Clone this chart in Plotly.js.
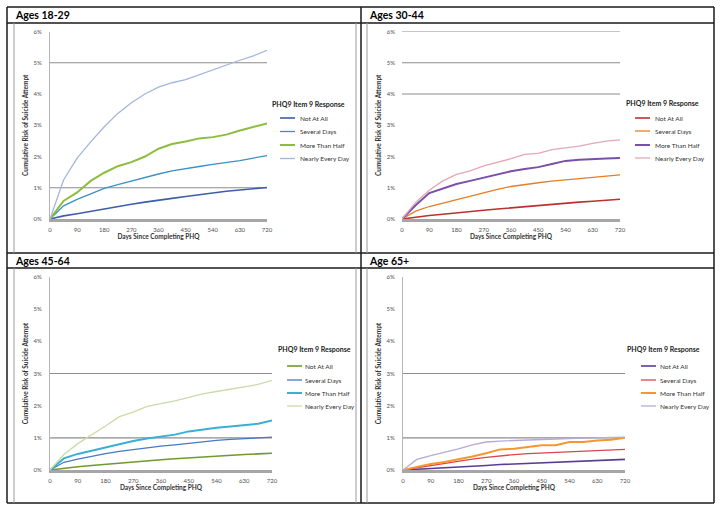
<!DOCTYPE html>
<html><head><meta charset="utf-8">
<script src="https://cdn.plot.ly/plotly-3.0.1.min.js"></script>
<style>html,body{margin:0;padding:0;background:#fff;}#chart{width:724px;height:512px;}</style>
</head><body><div id="chart"></div>
<script>
// ---------- DATA ----------
const days = [0,45,90,135,180,225,270,315,360,405,450,495,540,585,630,675,720];
const seriesNames = ['Not At All','Several Days','More Than Half','Nearly Every Day'];
const panelTitles = ['Ages 18-29','Ages 30-44','Ages 45-64','Age 65+'];
const xTickVals = [0,90,180,270,360,450,540,630,720];
const xTickLabels = ['0','90','180','270','360','450','540','630','720'];
const yTickVals = [0,1,2,3,4,5,6];
const yTickLabels = ['0%','1%','2%','3%','4%','5%','6%'];
const legendTitle = 'PHQ9 Item 9 Response';
const xTitle = 'Days Since Completing PHQ';
const yTitle = 'Cumulative Risk of Suicide Attempt';

// Ages 18-29 (cumulative risk, %)
const a1829_notAtAll      = [0,0.10,0.17,0.25,0.33,0.40,0.47,0.54,0.61,0.66,0.72,0.78,0.84,0.89,0.93,0.97,1.01];
const a1829_severalDays   = [0,0.42,0.63,0.80,0.98,1.10,1.22,1.32,1.44,1.54,1.60,1.68,1.75,1.80,1.87,1.95,2.03];
const a1829_moreThanHalf  = [0,0.58,0.85,1.22,1.48,1.69,1.82,2.00,2.25,2.40,2.48,2.58,2.62,2.70,2.83,2.95,3.06];
const a1829_nearlyEvery   = [0,1.25,1.95,2.47,2.95,3.38,3.72,4.00,4.22,4.36,4.46,4.62,4.78,4.94,5.08,5.22,5.40];
// Ages 30-44
const a3044_notAtAll      = [0,0.06,0.11,0.15,0.20,0.24,0.28,0.32,0.36,0.40,0.43,0.47,0.50,0.54,0.57,0.60,0.63];
const a3044_severalDays   = [0,0.25,0.40,0.51,0.63,0.73,0.84,0.95,1.04,1.11,1.16,1.21,1.25,1.30,1.34,1.38,1.41];
const a3044_moreThanHalf  = [0,0.44,0.83,0.98,1.12,1.22,1.32,1.42,1.53,1.60,1.66,1.76,1.86,1.90,1.93,1.94,1.95];
const a3044_nearlyEvery   = [0,0.53,0.92,1.22,1.43,1.54,1.70,1.81,1.93,2.07,2.10,2.22,2.27,2.33,2.42,2.49,2.53];
// Ages 45-64
const a4564_notAtAll      = [0,0.06,0.10,0.14,0.18,0.22,0.26,0.29,0.32,0.35,0.38,0.41,0.43,0.46,0.48,0.50,0.52];
const a4564_severalDays   = [0,0.24,0.34,0.43,0.51,0.58,0.64,0.70,0.74,0.78,0.83,0.88,0.92,0.95,0.97,1.00,1.02];
const a4564_moreThanHalf  = [0,0.36,0.50,0.60,0.72,0.81,0.90,0.98,1.03,1.10,1.20,1.26,1.31,1.35,1.39,1.44,1.54];
const a4564_nearlyEvery   = [0,0.48,0.82,1.09,1.37,1.66,1.80,1.98,2.06,2.15,2.26,2.37,2.44,2.52,2.58,2.66,2.79];
// Age 65+
const a65_notAtAll        = [0,0.02,0.04,0.07,0.09,0.12,0.14,0.17,0.19,0.21,0.23,0.25,0.27,0.29,0.30,0.32,0.33];
const a65_severalDays     = [0,0.07,0.14,0.21,0.28,0.34,0.39,0.44,0.48,0.51,0.53,0.56,0.58,0.60,0.62,0.63,0.64];
const a65_moreThanHalf    = [0,0.10,0.19,0.25,0.33,0.42,0.52,0.64,0.66,0.71,0.77,0.77,0.87,0.87,0.92,0.94,1.00];
const a65_nearlyEvery     = [0,0.33,0.45,0.55,0.66,0.78,0.87,0.90,0.92,0.92,0.95,0.97,0.98,0.99,1.00,1.01,1.02];

const panelSeries = [
  [a1829_notAtAll,a1829_severalDays,a1829_moreThanHalf,a1829_nearlyEvery],
  [a3044_notAtAll,a3044_severalDays,a3044_moreThanHalf,a3044_nearlyEvery],
  [a4564_notAtAll,a4564_severalDays,a4564_moreThanHalf,a4564_nearlyEvery],
  [a65_notAtAll,a65_severalDays,a65_moreThanHalf,a65_nearlyEvery]
];
const panelGridValues = [[1,5],[4,5,6],[1,3],[1,3]];

// ---------- STYLE ----------
const W = 724, H = 512;
const px = v => v / W;
const py = v => 1 - v / H;
const FONT = 'Lato, "Open Sans", sans-serif';
const panelColors = [
  ['#3F5DA8','#3A92C4','#8CBD3F','#A4B6DD'],
  ['#B8332F','#E87D24','#7A50A8','#E4A7B3'],
  ['#6F9A2E','#4A78C5','#38B0D6','#C9DCA8'],
  ['#5A3D93','#D8474E','#F7962F','#B6AAD6']
];
const lineWidths = [1.6,1.3,2.0,1.3];
const panels = [
  {xd:[50,267],   yd:[219,31.5], yline:true,  title:[13,15],  leg:{tx:270, ty:104, lx:280, tx2:298, ys:[118,131.5,145,158.5]}},
  {xd:[402,620],  yd:[219,31.5], yline:false, title:[367,15], leg:{tx:624, ty:103, lx:635, tx2:653, ys:[118,131,145,158]}},
  {xd:[50,272],   yd:[470,277],  yline:true,  title:[13,261], leg:{tx:276, ty:349, lx:287, tx2:303, ys:[366,380,393,406]}},
  {xd:[403,625],  yd:[470,277],  yline:true,  title:[367,261],leg:{tx:625, ty:349, lx:641, tx2:658, ys:[366,380,393,406]}}
];

const traces = [];
const layout = {
  width: W, height: H,
  margin: {l:0,r:0,t:0,b:0},
  paper_bgcolor:'#fff', plot_bgcolor:'rgba(0,0,0,0)',
  showlegend:false,
  font:{family:FONT, color:'#404040'},
  shapes: [], annotations: []
};

panels.forEach((p, i) => {
  const n = i === 0 ? '' : String(i+1);
  const xa = 'x' + n, ya = 'y' + n;
  panelSeries[i].forEach((vals, j) => {
    traces.push({
      x: days, y: vals, type:'scatter', mode:'lines',
      name: seriesNames[j], xaxis: xa, yaxis: ya,
      line: {color: panelColors[i][j], width: lineWidths[j]},
      hoverinfo:'x+y+name'
    });
  });
  layout['xaxis' + n] = {
    domain:[px(p.xd[0]), px(p.xd[1])], anchor: ya, range:[0,720],
    tickvals:xTickVals, ticktext:xTickLabels, ticks:'', showgrid:false, zeroline:false,
    showline:true, linecolor:'#A6A6A6', linewidth:3,
    tickfont:{size:6, color:'#505050', family:FONT}, ticklabelstandoff:3,
    title:{text:xTitle, font:{size:6.5, color:'#333', family:FONT, weight:'bold'}, standoff:3}
  };
  layout['yaxis' + n] = {
    domain:[py(p.yd[0]), py(p.yd[1])], anchor: xa, range:[0,6],
    tickvals:yTickVals, ticktext:yTickLabels, ticks:'', showgrid:false, zeroline:false,
    showline:p.yline, linecolor:'#B5B5B5', linewidth:1,
    tickfont:{size:6, color:'#505050', family:FONT}, ticklabelstandoff:6,
    title:{text:yTitle, font:{size:6.5, color:'#333', family:FONT, weight:'bold'}, standoff:4}
  };
  panelGridValues[i].forEach(g => {
    layout.shapes.push({type:'line', xref: xa + ' domain', yref: ya, x0:0, x1:1, y0:g, y1:g,
      line:{color:'#8C8C8C', width:1.2}, layer:'below'});
  });
  // panel title
  layout.annotations.push({xref:'paper', yref:'paper', x:px(p.title[0]), y:py(p.title[1]),
    xanchor:'left', yanchor:'middle', showarrow:false, text:'<b>' + panelTitles[i] + '</b>',
    font:{size:10.5, color:'#000', family:FONT}});
  // legend
  const L = p.leg;
  layout.annotations.push({xref:'paper', yref:'paper', x:px(L.tx), y:py(L.ty),
    xanchor:'left', yanchor:'middle', showarrow:false, text:'<b>' + legendTitle + '</b>',
    font:{size:7, color:'#222', family:FONT}});
  seriesNames.forEach((nm, j) => {
    layout.shapes.push({type:'line', xref:'paper', yref:'paper',
      x0:px(L.lx), x1:px(L.lx + 15), y0:py(L.ys[j]), y1:py(L.ys[j]),
      line:{color: panelColors[i][j], width: lineWidths[j]}});
    layout.annotations.push({xref:'paper', yref:'paper', x:px(L.tx2), y:py(L.ys[j]),
      xanchor:'left', yanchor:'middle', showarrow:false, text: nm,
      font:{size:6.5, color:'#333', family:FONT}});
  });
});

// ---------- FRAMES ----------
const blk = {color:'#1a1a1a', width:1.5};
const gry = {color:'#9a9a9a', width:1};
function pl(x0,y0,x1,y1,line){ layout.shapes.push({type:'line', xref:'paper', yref:'paper', x0:px(x0), y0:py(y0), x1:px(x1), y1:py(y1), line}); }
pl(7,7,714,7,blk); pl(7,503,714,503,blk); pl(7,7,7,503,blk); pl(714,7,714,503,blk);
pl(361,7,361,503,blk);
pl(7,23,714,23,blk); pl(7,253,714,253,blk); pl(7,268,714,268,blk);
[[23,253],[268,503]].forEach(([a,b]) => {
  pl(14,a,14,b,gry); pl(356,a,356,b,gry); pl(367,a,367,b,gry);
});

Plotly.newPlot('chart', traces, layout, {staticPlot:true, displayModeBar:false});
</script>
</body></html>
